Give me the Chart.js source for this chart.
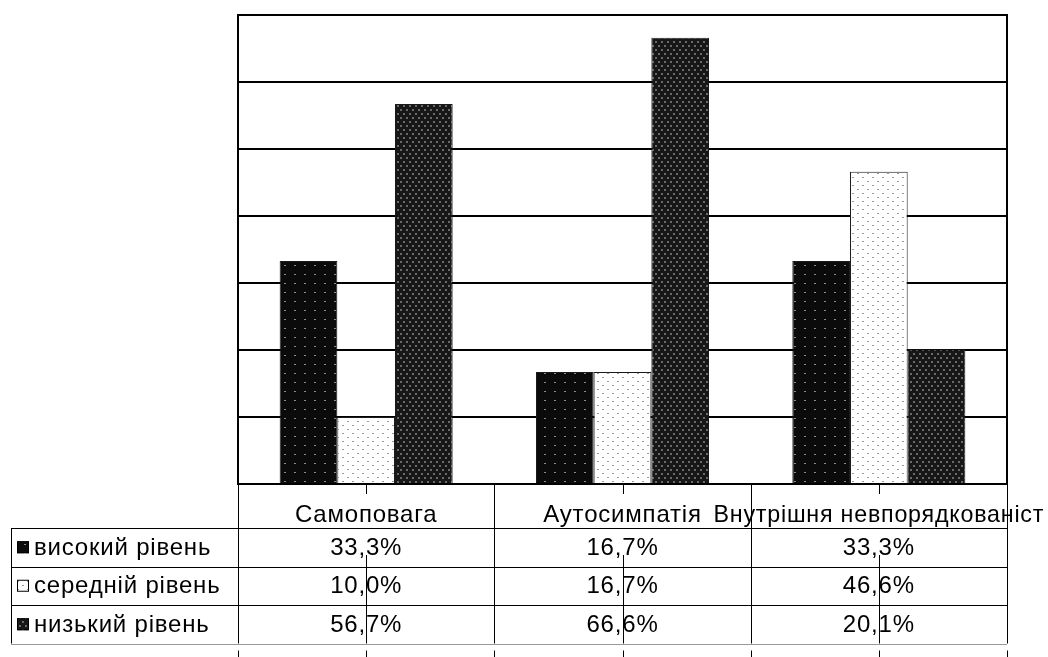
<!DOCTYPE html>
<html lang="uk">
<head>
<meta charset="UTF-8">
<title>Рівні самоставлення</title>
<script src="https://cdn.jsdelivr.net/npm/chart.js"></script>
<style>
    html, body { margin: 0; padding: 0; background: #ffffff; }
    #chart { display: block; }
</style>
</head>
<body>
<canvas id="chart" width="1048" height="657"></canvas>
<script>
    // дані
    const categories = ['Самоповага', 'Аутосимпатія', 'Внутрішня невпорядкованіст'];
    const seriesNames = ['високий рівень', 'середній рівень', 'низький рівень'];
    const highLevel = [33.3, 16.7, 33.3];
    const midLevel = [10.0, 16.7, 46.6];
    const lowLevel = [56.7, 66.6, 20.1];
    const yMax = 70;
    const yStep = 10;

    const FONT = '24px "Liberation Sans", Arial, sans-serif';

    // штрихування стовпчиків
    function tile(w, h, draw) {
        const c = document.createElement('canvas');
        c.width = w; c.height = h;
        draw(c.getContext('2d'));
        return document.getElementById('chart').getContext('2d').createPattern(c, 'repeat');
    }
    const darkDots = tile(10, 9, g => {
        g.fillStyle = '#0b0b0b'; g.fillRect(0, 0, 10, 9);
        g.fillStyle = '#8a8a8a'; g.fillRect(4, 4, 2, 1);
    });
    const lightDots = tile(10, 8, g => {
        g.fillStyle = '#ffffff'; g.fillRect(0, 0, 10, 8);
        g.fillStyle = '#9a9a9a'; g.fillRect(2, 1, 2, 1); g.fillRect(7, 5, 2, 1);
    });
    const checker = tile(6, 8, g => {
        g.fillStyle = '#171717'; g.fillRect(0, 0, 6, 8);
        g.fillStyle = '#6a6a6a'; g.fillRect(1, 1, 2, 2); g.fillRect(4, 5, 2, 2);
    });
    const fills = [darkDots, lightDots, checker];

    function fmt(v) {
        return v.toFixed(1).replace('.', ',') + '%';
    }

    // таблиця даних під діаграмою
    const dataTable = {
        id: 'dataTable',
        afterDraw(chart) {
            const { ctx, chartArea: a, scales: { x } } = chart;
            const n = categories.length;
            const catW = (a.right - a.left) / n;
            const bounds = [];
            for (let i = 0; i <= n; i++) bounds.push(a.left + i * catW);
            const centers = categories.map((_, i) => x.getPixelForValue(i));

            const headTop = a.bottom;
            const rowTop = headTop + 44;
            const rowH = 38.5;
            const tableBottom = rowTop + rowH * 3;
            const leftEdge = 11;

            ctx.save();
            ctx.strokeStyle = '#000';

            // правий край області побудови
            ctx.lineWidth = 2;
            ctx.beginPath();
            ctx.moveTo(a.right, a.top - 1);
            ctx.lineTo(a.right, a.bottom);
            ctx.stroke();

            ctx.lineWidth = 1;
            ctx.beginPath();
            bounds.forEach(bx => {
                const px = Math.round(bx) + 0.5;
                ctx.moveTo(px, headTop); ctx.lineTo(px, tableBottom);
                ctx.moveTo(px, tableBottom + 7); ctx.lineTo(px, 657);
            });
            centers.forEach(cx => {
                const px = Math.round(cx) + 0.5;
                ctx.moveTo(px, headTop); ctx.lineTo(px, headTop + 10);
                ctx.moveTo(px, rowTop + 27); ctx.lineTo(px, tableBottom);
                ctx.moveTo(px, tableBottom + 7); ctx.lineTo(px, 657);
            });
            ctx.moveTo(leftEdge + 0.5, rowTop); ctx.lineTo(leftEdge + 0.5, tableBottom);
            for (let r = 0; r < 3; r++) {
                const py = Math.round(rowTop + r * rowH) + 0.5;
                ctx.moveTo(leftEdge, py); ctx.lineTo(a.right, py);
            }
            ctx.stroke();
            ctx.strokeStyle = '#9a9a9a';
            ctx.beginPath();
            ctx.moveTo(leftEdge, Math.round(tableBottom) + 0.5);
            ctx.lineTo(a.right, Math.round(tableBottom) + 0.5);
            ctx.stroke();

            ctx.font = FONT;
            ctx.letterSpacing = '0.8px';
            ctx.fillStyle = '#000';
            ctx.textBaseline = 'middle';
            ctx.textAlign = 'center';
            // довгі підписи стискаємо, щоб не вилазили за край
            categories.forEach((c, i) => ctx.fillText(c, centers[i], headTop + 31, catW * 1.29));

            const rows = [highLevel, midLevel, lowLevel];
            rows.forEach((vals, r) => {
                const cy = rowTop + r * rowH + rowH / 2;
                ctx.textAlign = 'center';
                vals.forEach((v, i) => ctx.fillText(fmt(v), centers[i], cy + 1));
                // значок легенди
                ctx.fillStyle = fills[r];
                ctx.fillRect(17, cy - 6, 12, 12);
                ctx.strokeStyle = '#000';
                ctx.strokeRect(17.5, cy - 5.5, 11, 11);
                ctx.fillStyle = '#000';
                ctx.textAlign = 'left';
                ctx.fillText(seriesNames[r], 34, cy + 1);
            });
            ctx.restore();
        }
    };

    new Chart(document.getElementById('chart'), {
        type: 'bar',
        data: {
            labels: categories,
            datasets: [highLevel, midLevel, lowLevel].map((vals, i) => ({
                label: seriesNames[i],
                data: vals,
                backgroundColor: fills[i],
                borderColor: '#1a1a1a',
                borderWidth: 1,
                categoryPercentage: 0.675,
                barPercentage: 1
            }))
        },
        options: {
            responsive: false,
            animation: false,
            layout: { padding: { left: 238, right: 41, top: 15, bottom: 165 } },
            plugins: {
                legend: { display: false },
                tooltip: { enabled: false }
            },
            scales: {
                x: {
                    ticks: { display: false },
                    grid: { display: false },
                    border: { display: true, color: '#000', width: 2 }
                },
                y: {
                    min: 0,
                    max: yMax,
                    ticks: { display: false, stepSize: yStep },
                    grid: { color: '#000', lineWidth: 2, drawTicks: false },
                    border: { display: true, color: '#000', width: 2 }
                }
            }
        },
        plugins: [dataTable]
    });
</script>
</body>
</html>
